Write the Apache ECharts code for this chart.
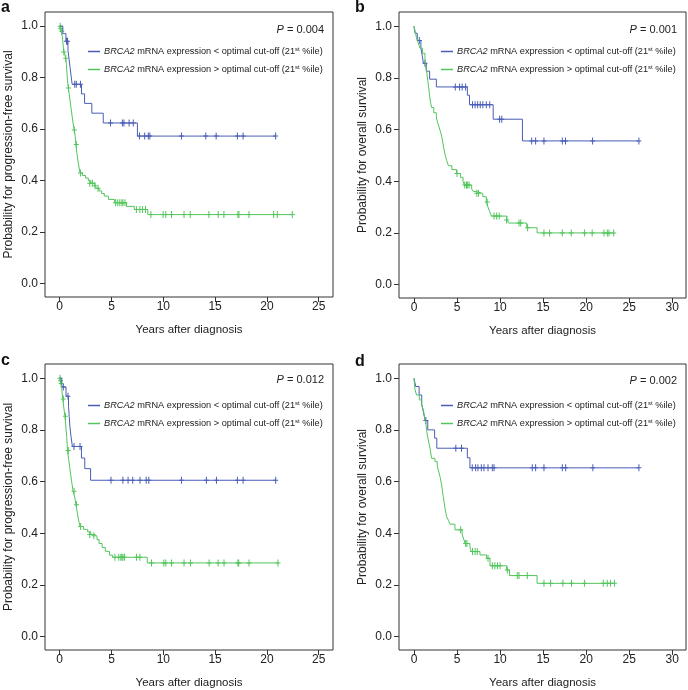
<!DOCTYPE html>
<html>
<head>
<meta charset="utf-8">
<script src="https://cdn.jsdelivr.net/npm/echarts@6/dist/echarts.min.js"></script>
<style>
html, body { margin: 0; padding: 0; background: #fff; }
#chart { width: 688px; height: 690px; }
</style>
</head>
<body>
<div id="chart"></div>
<script>
// tick values
const xTicksAC = [0, 5, 10, 15, 20, 25];
const xTicksBD = [0, 5, 10, 15, 20, 25, 30];
const yTicks = [0, 0.2, 0.4, 0.6, 0.8, 1.0];

const lowName = 'BRCA2 mRNA expression < optimal cut-off (21st %ile)';
const highName = 'BRCA2 mRNA expression > optimal cut-off (21st %ile)';

const panelLetters = ['a', 'b', 'c', 'd'];
const pValues = ['0.004', '0.001', '0.012', '0.002'];
const yNames = [
  'Probability for progression-free survival',
  'Probability for overall survival',
  'Probability for progression-free survival',
  'Probability for overall survival'
];
const xName = 'Years after diagnosis';

// panel a - [years, survival] at each drop, and censor marks
const aLowSteps = [[0,1],[0.3,0.971],[0.6,0.941],[0.8,0.905],[0.9,0.873],[1.0,0.84],[1.1,0.807],[1.2,0.774],[2.1,0.737],[2.4,0.70],[3.1,0.662],[4.2,0.624],[7.5,0.573],[20.84,0.573]];
const aLowCensor = [[0.65,0.941],[0.75,0.941],[1.45,0.774],[1.6,0.774],[2.0,0.774],[4.9,0.624],[6.05,0.624],[6.2,0.624],[6.7,0.624],[7.1,0.624],[7.7,0.573],[8.2,0.573],[8.55,0.573],[8.7,0.573],[11.75,0.573],[14.1,0.573],[15.1,0.573],[17.15,0.573],[17.7,0.573],[20.84,0.573]];
const aHighSteps = [[0,1],[0.05,0.99],[0.15,0.98],[0.25,0.96],[0.3,0.94],[0.35,0.92],[0.4,0.90],[0.5,0.89],[0.58,0.875],[0.65,0.85],[0.7,0.82],[0.75,0.79],[0.83,0.76],[0.9,0.74],[1.0,0.71],[1.1,0.68],[1.2,0.65],[1.3,0.62],[1.41,0.597],[1.5,0.57],[1.57,0.54],[1.65,0.51],[1.75,0.48],[1.85,0.455],[1.96,0.43],[2.2,0.42],[2.5,0.41],[2.76,0.40],[3.0,0.39],[3.4,0.38],[3.56,0.37],[3.8,0.36],[4.05,0.35],[4.3,0.34],[4.7,0.327],[5.3,0.314],[6.45,0.30],[7.2,0.288],[8.5,0.268],[22.45,0.268]];
const aHighCensor = [[0.05,1.0],[0.1,0.99],[0.2,0.98],[0.4,0.90],[0.58,0.875],[0.85,0.76],[1.41,0.597],[1.6,0.54],[2.0,0.43],[2.9,0.39],[3.15,0.39],[3.4,0.38],[3.7,0.37],[5.4,0.314],[5.6,0.314],[5.8,0.314],[6.0,0.314],[6.1,0.314],[6.3,0.314],[7.4,0.288],[7.74,0.288],[8.0,0.288],[8.28,0.288],[8.8,0.268],[9.98,0.268],[10.24,0.268],[10.79,0.268],[12.0,0.268],[12.6,0.268],[14.4,0.268],[15.3,0.268],[15.85,0.268],[17.2,0.268],[17.3,0.268],[18.27,0.268],[20.65,0.268],[21.0,0.268],[22.45,0.268]];

// panel b
const bLowSteps = [[0,1],[0.12,0.973],[0.38,0.945],[0.8,0.915],[0.95,0.887],[1.1,0.857],[1.43,0.826],[1.82,0.795],[2.6,0.765],[6.2,0.733],[6.45,0.696],[9.2,0.64],[12.6,0.556],[26.13,0.556]];
const bLowCensor = [[0.62,0.945],[1.28,0.857],[4.8,0.765],[5.3,0.765],[5.6,0.765],[6.0,0.765],[6.8,0.696],[7.1,0.696],[7.4,0.696],[7.7,0.696],[8.0,0.696],[8.4,0.696],[8.8,0.696],[9.95,0.64],[10.2,0.64],[13.67,0.556],[14.13,0.556],[15.1,0.556],[17.23,0.556],[17.6,0.556],[20.75,0.556],[26.13,0.556]];
const bHighSteps = [[0,1],[0.1,0.985],[0.3,0.955],[0.5,0.935],[0.7,0.915],[1.0,0.895],[1.28,0.863],[1.47,0.824],[1.6,0.79],[1.7,0.765],[1.8,0.735],[1.9,0.71],[2.05,0.685],[2.3,0.665],[2.6,0.645],[2.83,0.618],[3.05,0.595],[3.21,0.575],[3.35,0.55],[3.45,0.53],[3.6,0.505],[3.8,0.48],[4.0,0.46],[4.4,0.445],[4.95,0.43],[5.4,0.415],[5.7,0.40],[5.85,0.385],[6.7,0.37],[6.9,0.36],[7.2,0.353],[8.0,0.34],[8.4,0.32],[8.6,0.30],[8.8,0.282],[9.0,0.265],[10.8,0.25],[11.0,0.238],[13.1,0.22],[14.3,0.2],[23.2,0.2]];
const bHighCensor = [[5.0,0.43],[5.9,0.385],[6.1,0.385],[6.2,0.385],[6.4,0.385],[7.3,0.353],[7.5,0.353],[8.5,0.32],[9.3,0.265],[9.6,0.265],[9.9,0.265],[10.76,0.25],[12.2,0.238],[12.4,0.238],[13.2,0.22],[15.1,0.2],[15.76,0.2],[17.23,0.2],[18.27,0.2],[19.82,0.2],[20.7,0.2],[22.07,0.2],[22.46,0.2],[22.65,0.2],[23.2,0.2]];

// panel c
const cLowSteps = [[0,1],[0.2,0.966],[0.61,0.93],[0.85,0.89],[0.92,0.852],[0.98,0.814],[1.09,0.775],[1.22,0.736],[2.1,0.691],[2.42,0.65],[2.98,0.605],[20.85,0.605]];
const cLowCensor = [[0.35,0.966],[0.8,0.93],[1.38,0.736],[1.96,0.736],[4.95,0.605],[6.1,0.605],[6.6,0.605],[7.05,0.605],[7.75,0.605],[8.35,0.605],[8.6,0.605],[11.75,0.605],[14.16,0.605],[15.13,0.605],[17.15,0.605],[17.7,0.605],[20.85,0.605]];
const cHighSteps = [[0,1],[0.1,0.985],[0.2,0.96],[0.25,0.935],[0.3,0.92],[0.4,0.885],[0.5,0.853],[0.6,0.81],[0.68,0.77],[0.75,0.72],[0.85,0.69],[0.95,0.66],[1.05,0.63],[1.15,0.6],[1.3,0.562],[1.45,0.54],[1.57,0.51],[1.7,0.48],[1.8,0.455],[1.96,0.426],[2.3,0.415],[2.7,0.405],[3.0,0.395],[3.4,0.388],[3.6,0.375],[3.8,0.36],[4.1,0.345],[4.4,0.33],[4.8,0.315],[5.1,0.307],[8.45,0.285],[21.07,0.285]];
const cHighCensor = [[0.03,1.0],[0.08,0.99],[0.15,0.98],[0.35,0.92],[0.55,0.853],[0.83,0.72],[1.38,0.562],[1.62,0.51],[2.02,0.426],[2.9,0.395],[3.3,0.39],[5.33,0.307],[5.7,0.307],[5.9,0.307],[6.0,0.307],[6.1,0.307],[6.25,0.307],[7.42,0.307],[7.74,0.307],[8.86,0.285],[10.05,0.285],[10.24,0.285],[10.79,0.285],[12.0,0.285],[12.62,0.285],[14.42,0.285],[15.29,0.285],[15.86,0.285],[17.2,0.285],[17.28,0.285],[18.27,0.285],[21.07,0.285]];

// panel d
const dLowSteps = [[0,1],[0.2,0.968],[0.6,0.935],[0.9,0.9],[1.1,0.868],[1.3,0.836],[1.6,0.8],[2.4,0.768],[2.65,0.729],[6.2,0.692],[6.5,0.653],[26.13,0.653]];
const dLowCensor = [[1.38,0.836],[4.86,0.729],[5.52,0.729],[6.77,0.653],[7.16,0.653],[7.43,0.653],[7.82,0.653],[8.13,0.653],[8.6,0.653],[9.1,0.653],[9.3,0.653],[13.74,0.653],[14.13,0.653],[15.1,0.653],[17.23,0.653],[17.62,0.653],[20.78,0.653],[26.13,0.653]];
const dHighSteps = [[0,1],[0.12,0.955],[0.3,0.935],[0.62,0.916],[0.89,0.897],[1.08,0.877],[1.2,0.858],[1.28,0.839],[1.4,0.82],[1.47,0.8],[1.55,0.78],[1.66,0.761],[1.86,0.729],[1.95,0.71],[2.05,0.69],[2.44,0.677],[2.7,0.66],[2.83,0.645],[3.02,0.619],[3.21,0.587],[3.3,0.565],[3.4,0.542],[3.5,0.52],[3.6,0.497],[3.79,0.465],[4.0,0.45],[4.18,0.435],[4.76,0.413],[5.6,0.395],[5.8,0.375],[5.95,0.36],[6.5,0.348],[6.65,0.329],[7.67,0.316],[8.44,0.303],[8.83,0.274],[10.76,0.258],[11.1,0.236],[14.3,0.206],[23.3,0.206]];
const dHighCensor = [[5.42,0.413],[6.0,0.36],[6.15,0.36],[6.8,0.329],[7.1,0.329],[7.35,0.329],[8.6,0.303],[9.1,0.274],[9.4,0.274],[9.7,0.274],[10.0,0.274],[10.84,0.258],[12.0,0.236],[12.2,0.236],[13.16,0.236],[15.1,0.206],[15.87,0.206],[17.3,0.206],[18.3,0.206],[19.82,0.206],[21.99,0.206],[22.45,0.206],[22.84,0.206],[23.3,0.206]];

const lowSteps = [aLowSteps, bLowSteps, cLowSteps, dLowSteps];
const lowCensor = [aLowCensor, bLowCensor, cLowCensor, dLowCensor];
const highSteps = [aHighSteps, bHighSteps, cHighSteps, dHighSteps];
const highCensor = [aHighCensor, bHighCensor, cHighCensor, dHighCensor];

// layout (pixels) for each panel
const boxes = [
  { left: 45, top: 12, width: 288, height: 285, xMin: -1.42, xMax: 26.38, ticks: xTicksAC },
  { left: 399, top: 12, width: 287, height: 286, xMin: -1.74, xMax: 31.6, ticks: xTicksBD },
  { left: 45, top: 364, width: 288, height: 286, xMin: -1.42, xMax: 26.38, ticks: xTicksAC },
  { left: 399, top: 364, width: 287, height: 286, xMin: -1.74, xMax: 31.6, ticks: xTicksBD }
];
const letterPos = [[1, 0], [355, 0], [1, 353], [355, 354]];
const pPos = [[364, 24], [11, 24], [364, 374], [11, 375]];
const legendPos = [[88, 46], [441, 46], [88, 400], [441, 400]];

const BLUE = '#4a5db6';
const GREEN = '#52c55c';
const INK = '#222';
const FONT = 'Liberation Sans, Arial, Helvetica, sans-serif';
const PLUS = 'path://M2,0H3V3H5V4H3V7H2V4H0V3H2Z';

const chart = echarts.init(document.getElementById('chart'));

const grid = [], xAxis = [], yAxis = [], series = [], legend = [], title = [];

boxes.forEach((b, i) => {
  grid.push({
    left: b.left, top: b.top, width: b.width, height: b.height,
    show: true, borderColor: '#333', borderWidth: 1, backgroundColor: 'transparent'
  });
  xAxis.push({
    type: 'value', gridIndex: i, min: b.xMin, max: b.xMax,
    name: xName, nameLocation: 'middle', nameGap: 27,
    nameTextStyle: { fontSize: 11.5, color: INK, fontFamily: FONT },
    axisLine: { show: false, onZero: false },
    axisTick: { show: true, length: 5, customValues: b.ticks, lineStyle: { color: '#333' } },
    axisLabel: { customValues: b.ticks, margin: 4, fontSize: 12, color: INK, fontFamily: FONT },
    splitLine: { show: false }
  });
  yAxis.push({
    type: 'value', gridIndex: i, min: -0.052, max: 1.055,
    name: yNames[i], nameLocation: 'middle', nameGap: 30,
    nameTextStyle: { fontSize: 12, color: INK, fontFamily: FONT },
    axisLine: { show: false, onZero: false },
    axisTick: { show: true, length: 5, customValues: yTicks, lineStyle: { color: '#333' } },
    axisLabel: { customValues: yTicks, margin: 7, fontSize: 12, color: INK, fontFamily: FONT,
      formatter: v => v.toFixed(1) },
    splitLine: { show: false }
  });

  const lineOpts = (name, data, color) => ({
    name, type: 'line', step: 'end', xAxisIndex: i, yAxisIndex: i, data,
    symbol: 'none', silent: true, lineStyle: { color, width: 1 }, itemStyle: { color }
  });
  const censorOpts = (data, color) => ({
    type: 'scatter', xAxisIndex: i, yAxisIndex: i, data, silent: true,
    symbol: PLUS, symbolSize: [5, 7], itemStyle: { color, opacity: 1 }
  });
  series.push(lineOpts(lowName, lowSteps[i], BLUE));
  series.push(lineOpts(highName, highSteps[i], GREEN));
  series.push(censorOpts(lowCensor[i], BLUE));
  series.push(censorOpts(highCensor[i], GREEN));

  legend.push({
    orient: 'vertical', left: legendPos[i][0], top: legendPos[i][1], padding: 0,
    icon: 'rect', itemWidth: 12, itemHeight: 1.5, itemGap: 8, selectedMode: false,
    data: [lowName, highName],
    formatter: name => {
      const sign = name.indexOf('<') >= 0 ? '<' : '>';
      return '{i|BRCA2}{n| mRNA expression ' + sign + ' optimal cut-off (21}{s|st}{n| %ile)}';
    },
    textStyle: {
      color: INK, fontFamily: FONT, fontSize: 9, padding: [0, 0, 0, -1],
      rich: {
        i: { fontStyle: 'italic', fontSize: 9.2, lineHeight: 11, color: INK, fontFamily: FONT },
        n: { fontSize: 9.2, lineHeight: 11, color: INK, fontFamily: FONT },
        s: { fontSize: 6, lineHeight: 11, verticalAlign: 'top', color: INK, fontFamily: FONT }
      }
    }
  });

  title.push({
    text: panelLetters[i], left: letterPos[i][0], top: letterPos[i][1], padding: 0,
    textStyle: { fontSize: 16, fontWeight: 'bold', color: '#111', fontFamily: FONT, lineHeight: 16 }
  });
  title.push({
    text: '{i|P} = ' + pValues[i], right: pPos[i][0], top: pPos[i][1], padding: 0,
    textStyle: {
      fontSize: 11, color: INK, fontFamily: FONT, fontWeight: 'normal',
      rich: { i: { fontStyle: 'italic', fontSize: 11, color: INK, fontFamily: FONT } }
    }
  });
});

chart.setOption({
  animation: false,
  backgroundColor: '#fff',
  textStyle: { fontFamily: FONT },
  title, legend, grid, xAxis, yAxis, series
});
</script>
</body>
</html>
